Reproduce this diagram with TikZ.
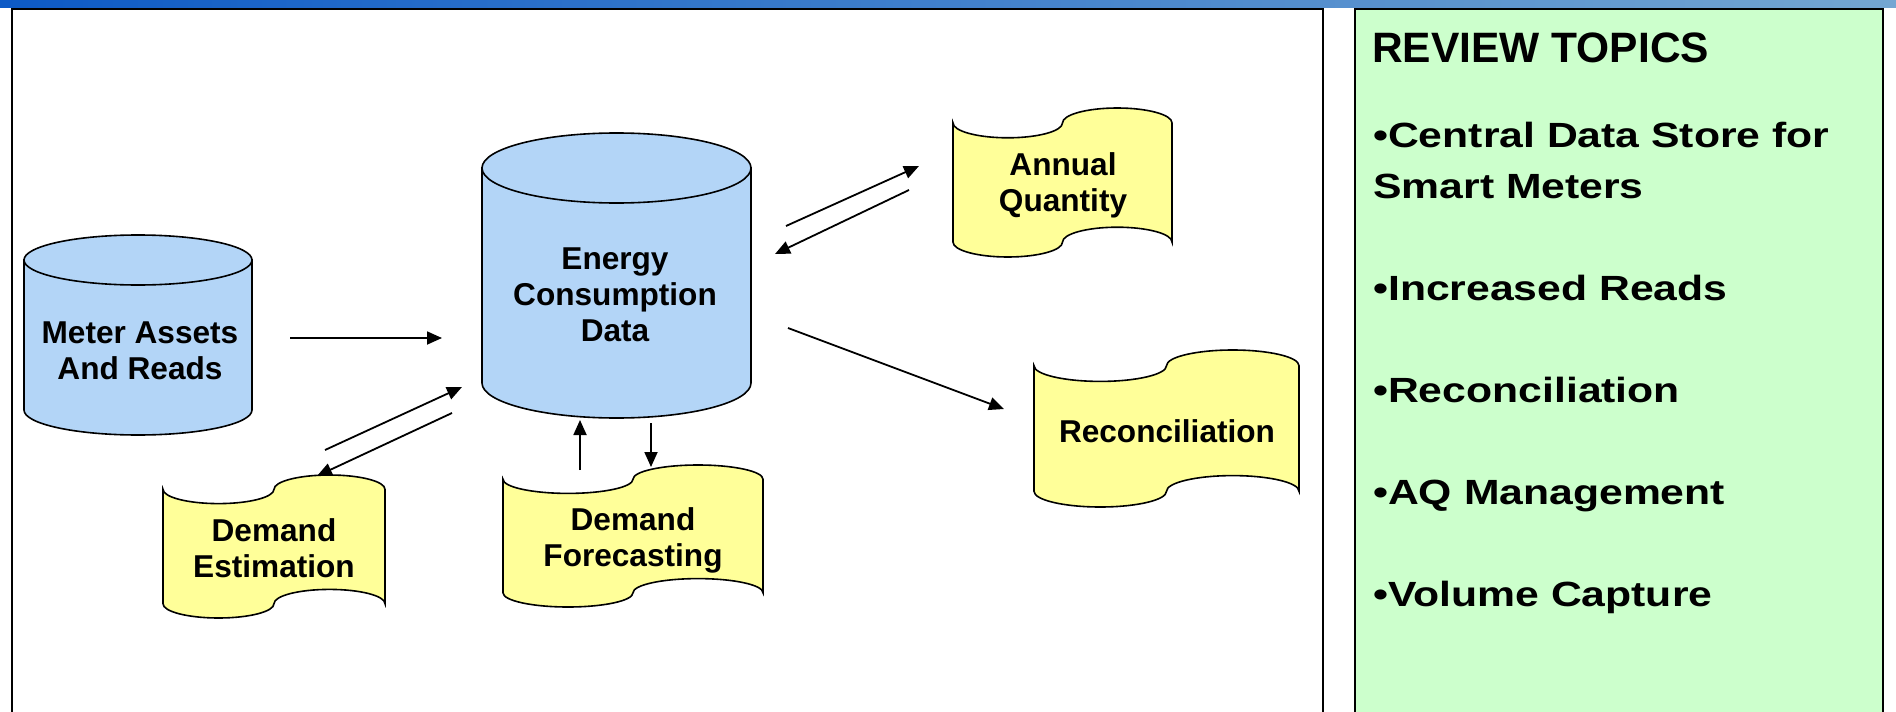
\documentclass[tikz,border=0pt]{standalone}
\usepackage{fontspec}
\setmainfont{Liberation Sans}
\newfontfamily\panelfont[FakeStretch=1.22]{Liberation Sans}
\usetikzlibrary{arrows.meta}
\definecolor{cylblue}{HTML}{B3D5F7}
\definecolor{tapeyellow}{HTML}{FFFF99}
\definecolor{panelgreen}{HTML}{CCFFCC}
\definecolor{barleft}{HTML}{0D5AC6}
\definecolor{barright}{HTML}{74A6D2}
\tikzset{
  shapeline/.style={draw=black, line width=1.6pt},
  cylbody/.style={shapeline, fill=cylblue},
  tapebody/.style={shapeline, fill=tapeyellow},
  lbl/.style={font=\bfseries\fontsize{31.6}{36}\selectfont, align=center, inner sep=0pt},
  flow/.style={line width=1.8pt, -{Triangle[length=15pt, width=13pt]}},
  frameline/.style={draw=black, line width=1.5pt},
  topline/.style={draw=black, line width=2.5pt},
  headtext/.style={font=\bfseries\fontsize{42.5}{42.5}\selectfont, inner sep=0pt},
  listtext/.style={font=\panelfont\bfseries\fontsize{35}{51}\selectfont, align=left, inner sep=0pt},
}
\newcommand{\drawcyl}[6]{% cx, ytop, ybot, rx, ry
  \draw[cylbody] ({#1-#4},#2) -- ({#1-#4},#3)
    .. controls ({#1-#4},{#3+0.5523*#5}) and ({#1-0.5523*#4},{#3+#5}) .. (#1,{#3+#5})
    .. controls ({#1+0.5523*#4},{#3+#5}) and ({#1+#4},{#3+0.5523*#5}) .. ({#1+#4},#3)
    -- ({#1+#4},#2) -- cycle;
  \draw[cylbody] (#1,#2) ellipse [x radius=#4pt, y radius=#5pt];
}
\newcommand{\drawtape}[4]{% X, Y, W, H
  \pgfmathsetmacro\tX{#1}\pgfmathsetmacro\tY{#2}%
  \pgfmathsetmacro\tA{#3/4}\pgfmathsetmacro\tB{#4/10}%
  \pgfmathsetmacro\tk{0.5523}%
  \draw[tapebody] (\tX,{\tY+\tB})
   .. controls (\tX,{\tY+\tB+\tk*\tB}) and ({\tX+\tA-\tk*\tA},{\tY+2*\tB}) .. ({\tX+\tA},{\tY+2*\tB})
   .. controls ({\tX+\tA+\tk*\tA},{\tY+2*\tB}) and ({\tX+2*\tA},{\tY+\tB+\tk*\tB}) .. ({\tX+2*\tA},{\tY+\tB})
   .. controls ({\tX+2*\tA},{\tY+\tB-\tk*\tB}) and ({\tX+3*\tA-\tk*\tA},\tY) .. ({\tX+3*\tA},\tY)
   .. controls ({\tX+3*\tA+\tk*\tA},\tY) and ({\tX+4*\tA},{\tY+\tB-\tk*\tB}) .. ({\tX+4*\tA},{\tY+\tB})
   -- ({\tX+4*\tA},{\tY+9*\tB})
   .. controls ({\tX+4*\tA},{\tY+9*\tB-\tk*\tB}) and ({\tX+3*\tA+\tk*\tA},{\tY+8*\tB}) .. ({\tX+3*\tA},{\tY+8*\tB})
   .. controls ({\tX+3*\tA-\tk*\tA},{\tY+8*\tB}) and ({\tX+2*\tA},{\tY+9*\tB-\tk*\tB}) .. ({\tX+2*\tA},{\tY+9*\tB})
   .. controls ({\tX+2*\tA},{\tY+9*\tB+\tk*\tB}) and ({\tX+\tA+\tk*\tA},{\tY+10*\tB}) .. ({\tX+\tA},{\tY+10*\tB})
   .. controls ({\tX+\tA-\tk*\tA},{\tY+10*\tB}) and (\tX,{\tY+9*\tB+\tk*\tB}) .. (\tX,{\tY+9*\tB})
   -- cycle;
}
\begin{document}
\begin{tikzpicture}[x=1pt, y=-1pt]
\useasboundingbox (0,0) rectangle (1896,712);
% top bar
\shade[left color=barleft, right color=barright] (0,0) rectangle (1896,7.5);
% left frame
\draw[frameline] (12,712) -- (12,9);
\draw[frameline] (1323,9) -- (1323,712);
\draw[topline] (11.25,9) -- (1323.75,9);
% right panel
\fill[panelgreen] (1355,9) rectangle (1883,712);
\draw[frameline] (1355,712) -- (1355,9);
\draw[frameline] (1883,9) -- (1883,712);
\draw[topline] (1354.25,9) -- (1883.75,9);
\node[headtext, anchor=base west] (head) at (1372,62) {REVIEW TOPICS};
\node[listtext, anchor=north west] (topics) at (1373,121.5) {•Central Data Store for\\Smart Meters\\[51pt]•Increased Reads\\[51pt]•Reconciliation\\[51pt]•AQ Management\\[51pt]•Volume Capture};
% cylinders
\drawcyl{138}{260}{410}{114}{25}{}
\node[lbl] (meter) at (140,351) {Meter Assets\\And Reads};
\drawcyl{616.5}{168}{383}{134.5}{35}{}
\node[lbl] (energy) at (615,295) {Energy\\Consumption\\Data};
% tapes
\drawtape{953}{108}{219}{149}
\node[lbl] (annual) at (1063,185.5) {Annual\\Quantity};
\drawtape{1034}{350}{265}{157}
\node[lbl] (recon) at (1167,431) {Reconciliation};
\drawtape{163}{475}{222}{143}
\node[lbl] (estim) at (274,548) {Demand\\Estimation};
\drawtape{503}{465}{260}{142}
\node[lbl] (forecast) at (633,540.5) {Demand\\Forecasting};
% connector end points
\coordinate (meterOut) at (290,338);
\coordinate (energyInM) at (442,338);
\coordinate (estimOut) at (325,450);
\coordinate (energyInE) at (462,387);
\coordinate (energyOutE) at (452,413);
\coordinate (estimIn) at (317,476);
\coordinate (forecastOut) at (580,470);
\coordinate (energyInF) at (580,420);
\coordinate (energyOutF) at (651,423);
\coordinate (forecastIn) at (651,467);
\coordinate (energyOutA) at (786,226);
\coordinate (annualIn) at (919,166);
\coordinate (annualOut) at (909,190);
\coordinate (energyInA) at (775,254);
\coordinate (energyOutR) at (788,328);
\coordinate (reconIn) at (1004,409);
% connectors
\draw[flow] (meterOut) -- (energyInM);
\draw[flow] (estimOut) -- (energyInE);
\draw[flow] (energyOutE) -- (estimIn);
\draw[flow] (forecastOut) -- (energyInF);
\draw[flow] (energyOutF) -- (forecastIn);
\draw[flow] (energyOutA) -- (annualIn);
\draw[flow] (annualOut) -- (energyInA);
\draw[flow] (energyOutR) -- (reconIn);
\end{tikzpicture}
\end{document}
